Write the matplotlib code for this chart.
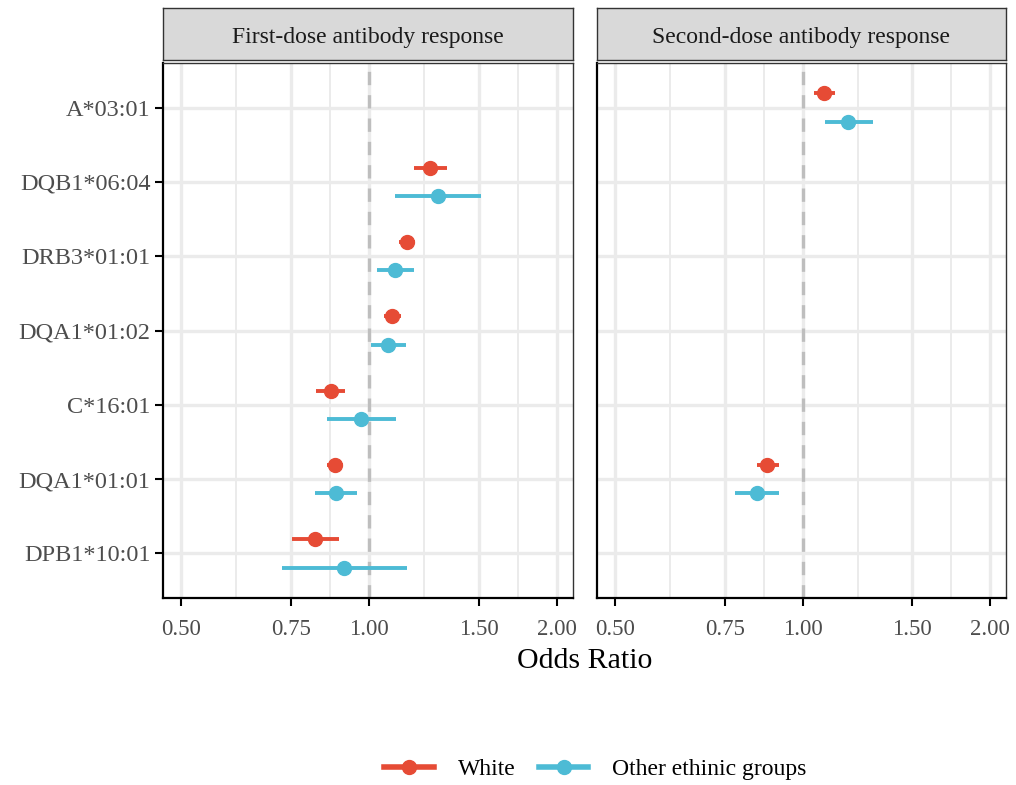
import numpy as np
import matplotlib
matplotlib.use("Agg")
import matplotlib.pyplot as plt
from matplotlib.lines import Line2D

plt.rcParams["font.family"] = ["Liberation Serif", "DejaVu Serif"]

alleles = ["DPB1*10:01", "DQA1*01:01", "C*16:01", "DQA1*01:02",
           "DRB3*01:01", "DQB1*06:04", "A*03:01"]

# first dose: (allele, OR, lo, hi)
first_white = {
    "DQB1*06:04": (1.252, 1.178, 1.332),
    "DRB3*01:01": (1.149, 1.118, 1.185),
    "DQA1*01:02": (1.090, 1.057, 1.124),
    "C*16:01":    (0.868, 0.821, 0.915),
    "DQA1*01:01": (0.881, 0.856, 0.910),
    "DPB1*10:01": (0.820, 0.752, 0.895),
}
first_other = {
    "DQB1*06:04": (1.287, 1.100, 1.510),
    "DRB3*01:01": (1.102, 1.029, 1.182),
    "DQA1*01:02": (1.073, 1.006, 1.146),
    "C*16:01":    (0.971, 0.856, 1.104),
    "DQA1*01:01": (0.885, 0.820, 0.955),
    "DPB1*10:01": (0.913, 0.725, 1.152),
}
second_white = {
    "A*03:01":    (1.082, 1.044, 1.127),
    "DQA1*01:01": (0.877, 0.846, 0.916),
}
second_other = {
    "A*03:01":    (1.184, 1.086, 1.295),
    "DQA1*01:01": (0.846, 0.778, 0.916),
}

panels = ["First-dose antibody response", "Second-dose antibody response"]
groups = ["White", "Other ethinic groups"]
colors = {"White": "#E64B35", "Other ethinic groups": "#4DBBD5"}
data = [(first_white, first_other), (second_white, second_other)]

major = [0.5, 0.75, 1.0, 1.5, 2.0]
minor = [0.612, 0.866, 1.225, 1.732]

W, H = 1016, 785
fig = plt.figure(figsize=(W / 100, H / 100), dpi=100)

def box(x0, y0, x1, y1):
    return [x0 / W, 1 - y1 / H, (x1 - x0) / W, (y1 - y0) / H]

boxes = [(163, 63, 573, 598), (597, 63, 1006, 598)]
offs = {"White": 0.19, "Other ethinic groups": -0.19}

for i, (title, (dw, do), b) in enumerate(zip(panels, data, boxes)):
    ax = fig.add_axes(box(*b))
    ax.set_xscale("log")
    ax.set_xlim(0.468, 2.12)
    ax.set_ylim(-0.6, 6.6)
    for v in minor:
        ax.axvline(v, color="#EBEBEB", lw=1.4, zorder=0)
    for v in major:
        ax.axvline(v, color="#EBEBEB", lw=2.4, zorder=0)
    for k in range(len(alleles)):
        ax.axhline(k, color="#EBEBEB", lw=2.4, zorder=0)
    ax.axvline(1.0, color="#BEBEBE", lw=2.4, ls=(0, (4, 3)), zorder=1)
    for g, d in zip(groups, (dw, do)):
        for a, (m, lo, hi) in d.items():
            y = alleles.index(a) + offs[g]
            ax.plot([lo, hi], [y, y], color=colors[g], lw=2.8,
                    solid_capstyle="butt", zorder=3)
            ax.plot(m, y, "o", color=colors[g], ms=10, zorder=4)
    ax.xaxis.set_major_locator(matplotlib.ticker.FixedLocator(major))
    ax.xaxis.set_minor_locator(matplotlib.ticker.NullLocator())
    ax.set_xticklabels(["%.2f" % v for v in major])
    ax.set_yticks(range(len(alleles)))
    if i == 0:
        ax.set_yticklabels(alleles)
        ax.tick_params(axis="y", length=6, width=1.5, labelsize=17.5, pad=3)
    else:
        ax.set_yticklabels([])
        ax.tick_params(axis="y", length=0)
    ax.tick_params(axis="x", length=6, width=1.5, labelsize=16.5, pad=9,
                   colors="#000000", labelcolor="#4D4D4D")
    ax.tick_params(axis="y", labelcolor="#4D4D4D")
    for s in ("top", "right"):
        ax.spines[s].set_color("#333333")
        ax.spines[s].set_linewidth(1.0)
    for s in ("left", "bottom"):
        ax.spines[s].set_color("#000000")
        ax.spines[s].set_linewidth(1.6)

    sx = fig.add_axes(box(b[0], 8, b[2], 60))
    sx.set_facecolor("#D9D9D9")
    sx.set_xticks([]); sx.set_yticks([])
    for s in sx.spines.values():
        s.set_color("#333333"); s.set_linewidth(1.0)
    sx.text(0.5, 0.44, title, ha="center", va="center", fontsize=17,
            color="#1A1A1A", transform=sx.transAxes)

fig.text(585 / W, 1 - 661 / H, "Odds Ratio", ha="center", va="center",
         fontsize=21.5)

handles = [Line2D([0], [0], color=colors[g], lw=4, marker="o", ms=10)
           for g in groups]
fig.legend(handles, groups, loc="center", bbox_to_anchor=(0.586, 1 - 769 / H),
           ncol=2, frameon=False, fontsize=17, handlelength=2.1,
           columnspacing=1.0, handletextpad=1.0)

fig.savefig("out.png", dpi=100)
